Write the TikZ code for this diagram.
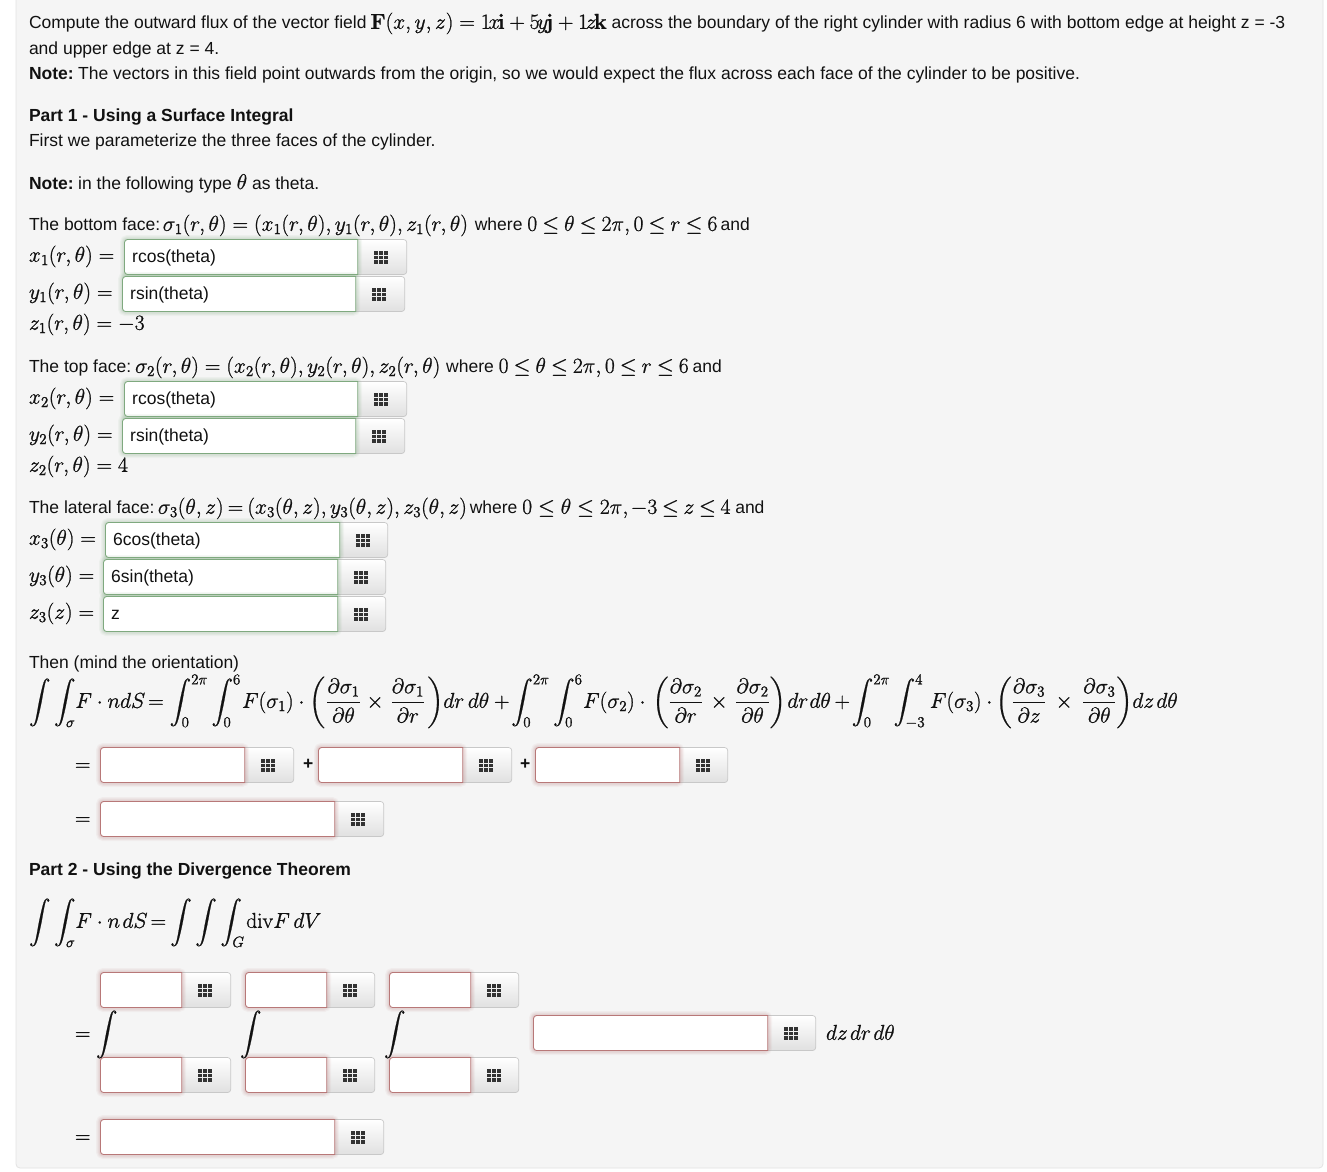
\RequirePackage{fix-cm}
\documentclass[tikz,border=0pt]{standalone}
\usepackage{amsmath,amssymb}
\usepackage[no-math]{fontspec}
\setmainfont{Liberation Sans}
\usetikzlibrary{calc}
\definecolor{panel}{HTML}{F5F5F5}
\definecolor{panelb}{HTML}{E3E3E3}
\definecolor{okc}{HTML}{7FA97F}
\definecolor{badc}{HTML}{B87878}
\definecolor{btnb}{HTML}{C8C8C8}
\definecolor{inkc}{HTML}{111111}
\newcommand{\msz}{\fontsize{21.5}{24}\selectfont}
\newcommand{\M}[1]{{\msz\special{pdf:code 2 Tr 0.22 w}$#1$\special{pdf:code 0 Tr}}}
\newcommand{\tle}{\mkern-0.7mu\le\mkern-0.7mu}
\tikzset{
  x=1pt,y=-1pt,
  txt/.style={anchor=base west,inner sep=0pt,outer sep=0pt,yshift=-.8pt,font=\fontsize{17.5}{20}\selectfont,text=inkc},
  plain/.style={txt,yshift=-.3pt},
  ans/.style={anchor=west,inner sep=0pt,font=\fontsize{17.5}{20}\selectfont,text=inkc},
  btn/.style={draw=btnb,top color=white,bottom color=black!12,rounded corners=3pt,line width=.7pt},
}
% name, x, y, input width, total width, colour, text
\newcommand{\answerbox}[7]{
  \begin{scope}[xshift=.5pt,yshift=-.5pt]
  \path[btn] ({#2+#4-6},#3) rectangle ({#2+#5-.8},{#3+35});
  \foreach \g/\o in {9/.07,6.5/.09,4/.13}
    \draw[#6,opacity=\o,line width=\g pt,rounded corners=3pt] ({#2+#4-.8},#3) -- (#2,#3) -- (#2,{#3+35}) -- ({#2+#4-.8},{#3+35}) -- cycle;
  \draw[#6,fill=white,line width=.9pt] ({#2+#4-.8},#3) [rounded corners=3pt] -- (#2,#3) -- (#2,{#3+35}) [sharp corners] -- ({#2+#4-.8},{#3+35}) -- cycle;
  \node[ans] (#1) at ({#2+7.5},{#3+18.7}) {\strut #7};
  \foreach \i in {0,1,2} \foreach \j in {0,1,2}
    \fill[black!80] ({#2+(#4+#5)/2-9+\i*5},{#3+11.5+\j*4.5}) rectangle ++(4.2,3.8);
  \end{scope}
}
\begin{document}
\begin{tikzpicture}
\useasboundingbox (0,0) rectangle (1327,1171);
\fill[white] (0,0) rectangle (1327,1171);
\path[fill=panel,draw=panelb,rounded corners=4pt,line width=.8pt] (16,-6) rectangle (1323,1168);

\node[txt] (l1) at (29,28) {Compute the outward flux of the vector field\hspace{-1pt} \M{\mathbf{F}(x,y,z)=1\mkern-2mu x\mkern-2mu\mathbf{i}+5\mkern-2mu y\mkern-2mu\mathbf{j}+1\mkern-2mu z\mkern-2mu\mathbf{k}} across the boundary of the right cylinder with radius 6 with bottom edge at height z = -3};
\node[plain] (l2) at (29,53) {and upper edge at z = 4.};
\node[plain] (l3) at (29,78) {\textbf{Note:}\hspace{-2pt} The vectors in this field point outwards from the origin, so we would expect the flux across each face of the cylinder to be positive.};
\node[plain] (l4) at (29,120) {\textbf{Part 1 - Using a Surface Integral}};
\node[plain] (l5) at (29,145) {First we parameterize the three faces of the cylinder.};
\node[plain] (l6) at (29,188) {\textbf{Note:}\hspace{-2pt} in the following type \M{\theta} as theta.};

\node[txt] (bf) at (29,230) {The bottom face:\hspace{-4pt} \M{\sigma_1(r,\theta)=(x_1(r,\theta),y_1(r,\theta),z_1(r,\theta)}\hspace{2pt} where \M{0\tle\theta\tle 2\pi,0\tle r\tle 6}\hspace{-1.5pt} and};
\node[txt] (x1) at (29,261) {\M{x_1(r,\theta)=}};
\answerbox{x1a}{124}{239}{234}{283}{okc}{rcos(theta)}
\node[txt] (y1) at (29,298) {\M{y_1(r,\theta)=}};
\answerbox{y1a}{122}{276}{234}{283}{okc}{rsin(theta)}
\node[txt] (z1) at (29,329) {\M{z_1(r,\theta)=-3}};

\node[txt] (tf) at (29,372) {The top face:\hspace{-2.5pt} \M{\sigma_2(r,\theta)=(x_2(r,\theta),y_2(r,\theta),z_2(r,\theta)}\hspace{1pt} where \M{0\tle\theta\tle 2\pi,0\tle r\tle 6}\hspace{-1pt} and};
\node[txt] (x2) at (29,403) {\M{x_2(r,\theta)=}};
\answerbox{x2a}{124}{381}{234}{283}{okc}{rcos(theta)}
\node[txt] (y2) at (29,440) {\M{y_2(r,\theta)=}};
\answerbox{y2a}{122}{418}{234}{283}{okc}{rsin(theta)}
\node[txt] (z2) at (29,471) {\M{z_2(r,\theta)=4}};

\node[txt] (lf) at (29,513) {The lateral face:\hspace{-3pt} \M{\sigma_3(\theta,z)\mkern-1.5mu=\mkern-1.5mu(x_3(\theta,z),y_3(\theta,z),z_3(\theta,z)}\hspace{-2pt} where \M{0\le\theta\le 2\pi,\mkern-1mu -3\mkern-1mu\le\mkern-1mu z\mkern-1mu\le\mkern-1mu 4}\hspace{0pt} and};
\node[txt] (x3) at (29,544) {\M{x_3(\theta)=}};
\answerbox{x3a}{105}{522}{235}{283}{okc}{6cos(theta)}
\node[txt] (y3) at (29,581) {\M{y_3(\theta)=}};
\answerbox{y3a}{103}{559}{235}{283}{okc}{6sin(theta)}
\node[txt] (z3) at (29,618) {\M{z_3(z)=}};
\answerbox{z3a}{103}{596}{235}{283}{okc}{z}

\node[plain] (then) at (29,667) {Then (mind the orientation)};
\node[txt] (flux) at (29,707) {\M{\displaystyle \int\int_\sigma\! F\cdot n dS\mkern-2.5mu =\int_0^{2\pi}\int_0^6\mkern-2mu F(\sigma_1)\cdot\left(\mkern1mu\frac{\partial\sigma_1}{\partial\theta}\mkern1mu\times\mkern2mu\frac{\partial\sigma_1}{\partial r}\mkern2mu\right)\!dr\,d\theta+\mkern-2.5mu\int_0^{2\pi}\int_0^6\mkern-2.5mu F(\sigma_2)\cdot\mkern2mu\left(\frac{\partial\sigma_2}{\partial r}\mkern2.5mu\times\mkern2.5mu\frac{\partial\sigma_2}{\partial\theta}\right)\mkern-1.5mu dr\mkern1mu d\theta\mkern-1mu +\mkern-2.5mu\int_0^{2\pi}\int_{-3}^4\mkern1mu F(\sigma_3)\cdot\mkern-1mu\left(\frac{\partial\sigma_3}{\partial z}\mkern4mu\times\mkern4mu\frac{\partial\sigma_3}{\partial\theta}\right)\!dz\mkern2mu d\theta}};

\node[txt] (e1) at (75,770) {\M{=}};
\answerbox{a1}{100}{747}{145}{194}{badc}{}
\node[txt] (p1) at (303,769) {\textbf{+}};
\answerbox{a2}{318}{747}{145}{194}{badc}{}
\node[txt] (p2) at (520,769) {\textbf{+}};
\answerbox{a3}{535}{747}{145}{193}{badc}{}
\node[txt] (e2) at (75,824) {\M{=}};
\answerbox{a4}{100}{801}{235}{284}{badc}{}

\node[plain] (l7) at (29,874) {\textbf{Part 2 - Using the Divergence Theorem}};
\node[txt] (dv) at (29,927) {\M{\displaystyle \int\int_\sigma\! F\cdot n\mkern2mu dS\mkern-2.5mu =\mkern-1.5mu\int\int\int_G \mkern-1.5mu\mathrm{div}F\,dV}};

\answerbox{t1}{100}{972}{82}{131}{badc}{}
\answerbox{t2}{245}{972}{82}{130}{badc}{}
\answerbox{t3}{389}{972}{82}{130}{badc}{}
\answerbox{b1}{100}{1057}{82}{131}{badc}{}
\answerbox{b2}{245}{1057}{82}{130}{badc}{}
\answerbox{b3}{389}{1057}{82}{130}{badc}{}
\node[txt] (e3) at (75,1039) {\M{=}};
\node[txt] (i1) at (96,1039) {\M{\displaystyle\int}};
\node[txt] (i2) at (240,1039) {\M{\displaystyle\int}};
\node[txt] (i3) at (384,1039) {\M{\displaystyle\int}};
\answerbox{big}{533}{1015}{235}{283}{badc}{}
\node[txt] (dd) at (826,1039) {\M{dz\mkern2mu dr\mkern2mu d\theta}};
\node[txt] (e4) at (75,1142) {\M{=}};
\answerbox{a5}{100}{1119}{235}{284}{badc}{}
\end{tikzpicture}
\end{document}
